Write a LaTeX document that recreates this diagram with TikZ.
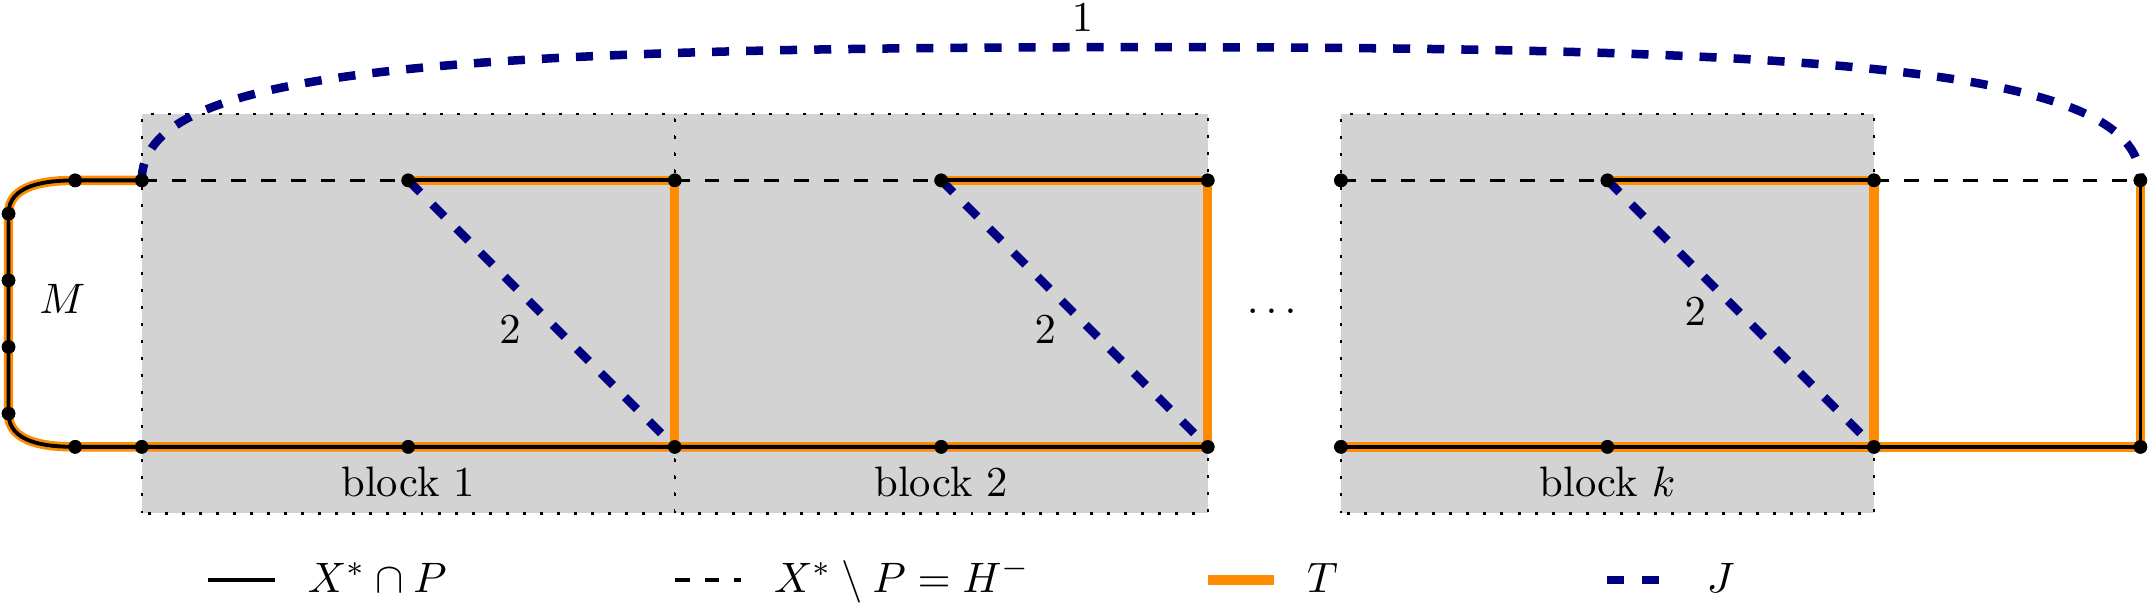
\documentclass[tikz,border=0pt]{standalone}
\definecolor{grayfill}{RGB}{211,211,211}
\definecolor{orangeT}{RGB}{255,140,0}
\definecolor{navyJ}{RGB}{0,0,128}
\begin{document}
\begin{tikzpicture}[x=2.2cm,y=2.2cm,
  blockbox/.style={fill=grayfill, draw=black, line width=0.5pt, dash pattern=on 0.7pt off 3.3pt},
  tedge/.style={draw=orangeT, line width=2.2pt},
  xedge/.style={draw=black, line width=0.9pt},
  hedge/.style={draw=black, line width=0.8pt, dash pattern=on 3.5pt off 3.5pt},
  jedge/.style={draw=navyJ, line width=2pt, dash pattern=on 4pt off 4pt},
  vtx/.style={circle, fill=black, inner sep=0pt, minimum size=3.2pt},
  lbl/.style={inner sep=0pt},
  legtext/.style={inner sep=0pt, anchor=base west}
]
\useasboundingbox (-0.532,-0.585) rectangle (7.536,1.677);

% blocks
\path[blockbox] (0,-0.25) rectangle (2,1.25);
\path[blockbox] (2,-0.25) rectangle (4,1.25);
\path[blockbox] (4.5,-0.25) rectangle (6.5,1.25);

% vertices
\node[vtx] (tm) at (-0.25,1) {};
\node[vtx] (t0) at (0,1) {};
\node[vtx] (t1) at (1,1) {};
\node[vtx] (t2) at (2,1) {};
\node[vtx] (t3) at (3,1) {};
\node[vtx] (t4) at (4,1) {};
\node[vtx] (t5) at (4.5,1) {};
\node[vtx] (t6) at (5.5,1) {};
\node[vtx] (t7) at (6.5,1) {};
\node[vtx] (t8) at (7.5,1) {};
\node[vtx] (bm) at (-0.25,0) {};
\node[vtx] (b0) at (0,0) {};
\node[vtx] (b1) at (1,0) {};
\node[vtx] (b2) at (2,0) {};
\node[vtx] (b3) at (3,0) {};
\node[vtx] (b4) at (4,0) {};
\node[vtx] (b5) at (4.5,0) {};
\node[vtx] (b6) at (5.5,0) {};
\node[vtx] (b7) at (6.5,0) {};
\node[vtx] (b8) at (7.5,0) {};
\node[vtx] (l1) at (-0.5,0.875) {};
\node[vtx] (l2) at (-0.5,0.625) {};
\node[vtx] (l3) at (-0.5,0.375) {};
\node[vtx] (l4) at (-0.5,0.125) {};
\coordinate (jtop) at (3.75,1.5);

% orange T edges
\draw[tedge] (t0.center) -- (tm.center) to[out=180,in=90] (l1.center) -- (l2.center) -- (l3.center) -- (l4.center) to[out=-90,in=180] (bm.center) -- (b0.center) -- (b1.center) -- (b2.center) -- (b3.center) -- (b4.center);
\draw[tedge] (b5.center) -- (b6.center) -- (b7.center) -- (b8.center) -- (t8.center);
\draw[tedge] (t1.center) -- (t2.center) -- (b2.center);
\draw[tedge] (t3.center) -- (t4.center) -- (b4.center);
\draw[tedge] (t6.center) -- (t7.center) -- (b7.center);

% black X* cap P edges
\draw[xedge] (t0.center) -- (tm.center) to[out=180,in=90] (l1.center) -- (l2.center) -- (l3.center) -- (l4.center) to[out=-90,in=180] (bm.center) -- (b0.center) -- (b1.center) -- (b2.center) -- (b3.center) -- (b4.center);
\draw[xedge] (b5.center) -- (b6.center) -- (b7.center) -- (b8.center) -- (t8.center);
\draw[xedge] (t1.center) -- (t2.center);
\draw[xedge] (t3.center) -- (t4.center);
\draw[xedge] (t6.center) -- (t7.center);

% dashed H^- edges
\draw[hedge] (t0.center) -- (t1.center);
\draw[hedge] (t2.center) -- (t3.center);
\draw[hedge] (t5.center) -- (t6.center);
\draw[hedge] (t7.center) -- (t8.center);

% J edges
\draw[jedge] (t1.center) -- node[lbl, pos=0.5] (w2a) {} (b2.center);
\draw[jedge] (t3.center) -- (b4.center);
\draw[jedge] (t6.center) -- (b7.center);
\draw[jedge] (t0.center) .. controls (0,1.4) and (1.0,1.5) .. (jtop) .. controls (6.5,1.5) and (7.5,1.4) .. (t8.center);

% redraw vertices on top
\foreach \v in {tm,t0,t1,t2,t3,t4,t5,t6,t7,t8,bm,b0,b1,b2,b3,b4,b5,b6,b7,b8,l1,l2,l3,l4}
  \fill (\v.center) circle (1.6pt);

% labels
\node[lbl] (lab1) at (3.53,1.61) {$1$};
\node[lbl] (lab2a) at (1.382,0.44) {$2$};
\node[lbl] (lab2b) at (3.39,0.44) {$2$};
\node[lbl] (lab2c) at (5.83,0.507) {$2$};
\node[lbl] (labM) at (-0.298,0.555) {$M$};
\node[lbl] (labdots) at (4.24,0.51) {$\dots$};
\node[lbl] (blk1) at (1,-0.13) {block 1};
\node[lbl] (blk2) at (3,-0.13) {block 2};
\node[lbl] (blkk) at (5.5,-0.13) {block $k$};

% legend
\coordinate (la1) at (0.25,-0.5); \coordinate (la2) at (0.5,-0.5);
\coordinate (lb1) at (2.0,-0.5);  \coordinate (lb2) at (2.25,-0.5);
\coordinate (lc1) at (4.0,-0.5);  \coordinate (lc2) at (4.25,-0.5);
\coordinate (ld1) at (5.5,-0.5);  \coordinate (ld2) at (5.75,-0.5);
\draw[xedge] (la1) -- (la2);
\draw[hedge] (lb1) -- (lb2);
\draw[tedge] (lc1) -- (lc2);
\draw[jedge] (ld1) -- (ld2);
\node[legtext] (lta) at (0.62,-0.545) {$X^*\cap P$};
\node[legtext] (ltb) at (2.37,-0.545) {$X^*\setminus P = H^-$};
\node[legtext] (ltc) at (4.37,-0.545) {$T$};
\node[legtext] (ltd) at (5.87,-0.545) {$J$};
\end{tikzpicture}
\end{document}
